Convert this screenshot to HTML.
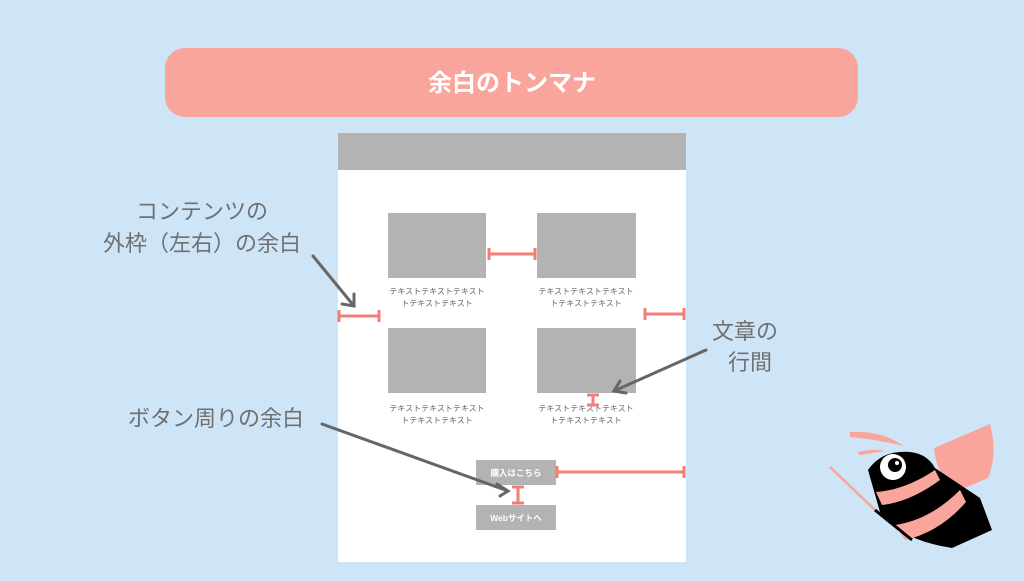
<!DOCTYPE html>
<html><head><meta charset="utf-8"><style>
body{margin:0;width:1024px;height:576px;overflow:hidden;background:#cee4f7}
text{font-family:"Liberation Sans","Noto Sans CJK JP",sans-serif}
</style></head><body>
<svg width="1024" height="576" viewBox="0 0 1024 576" xmlns="http://www.w3.org/2000/svg">
<rect width="1024" height="576" fill="#cee4f7"/>
<rect x="165" y="48" width="693" height="69" rx="20" fill="#f9a59c"/>
<text x="512" y="91" font-size="24" font-weight="bold" fill="#fff" text-anchor="middle">余白のトンマナ</text>
<rect x="338" y="133" width="348" height="429" fill="#fff"/>
<rect x="338" y="133" width="348" height="37" fill="#b3b3b3"/>
<g fill="#b3b3b3">
<rect x="388" y="213" width="98" height="65"/><rect x="537" y="213" width="99" height="65"/>
<rect x="388" y="328" width="98" height="65"/><rect x="537" y="328" width="99" height="65"/>
<rect x="476" y="460" width="80" height="25"/><rect x="476" y="505" width="80" height="25"/>
</g>
<g font-size="8" fill="#666" text-anchor="middle">
<text x="437" y="294">テキストテキストテキスト</text><text x="437" y="306">トテキストテキスト</text>
<text x="586" y="294">テキストテキストテキスト</text><text x="586" y="306">トテキストテキスト</text>
<text x="437" y="411">テキストテキストテキスト</text><text x="437" y="423">トテキストテキスト</text>
<text x="586" y="411">テキストテキストテキスト</text><text x="586" y="423">トテキストテキスト</text>
</g>
<g font-size="8.5" fill="#fff" text-anchor="middle" font-weight="bold">
<text x="516" y="476">購入はこちら</text><text x="516" y="521">Webサイトへ</text>
</g>
<g stroke="#f27f76" stroke-width="3" fill="none">
<path d="M489 254H535M489 248V260M535 248V260"/>
<path d="M339 316H379M339 310V322M379 310V322"/>
<path d="M645 314H684M645 308V320M684 308V320"/>
<path d="M593 395V405M587 395H599M587 405H599"/>
<path d="M557 472H684M557 466V478M684 466V478"/>
<path d="M518 487V503M512 487H524M512 503H524"/>
</g>
<g stroke="#666" stroke-width="3" fill="none" stroke-linecap="round">
<path d="M313 256L354 306M342 304L354 306L354 294"/>
<path d="M706 350L614 391M620 381L614 391L626 393"/>
<path d="M322 424L508 491M497 484L508 491L500 496"/>
</g>
<g font-size="22" fill="#707070" text-anchor="middle">
<text x="202" y="219">コンテンツの</text>
<text x="202" y="251">外枠（左右）の余白</text>
<text x="745" y="339">文章の</text>
<text x="750" y="370">行間</text>
<text x="216" y="426">ボタン周りの余白</text>
</g>
<path d="M934 448L990 424Q998 455 988 478L960 490Q936 478 934 448Z" fill="#f9a59c"/>
<path d="M850 432Q880 430 904 446Q880 440 850 437Z" fill="#f9a59c"/>
<path d="M858 452Q875 448 885 451L860 455Z" fill="#f9a59c"/>
<path d="M868 470Q880 453 900 452Q925 450 935 468L980 498L992 530L952 548Q900 540 880 512Z" fill="#000"/>
<path d="M876 492Q905 490 935 470L940 480Q910 502 882 505Z" fill="#f9a59c"/>
<path d="M895 525Q930 520 960 490L966 502Q940 532 905 540Z" fill="#f9a59c"/>
<circle cx="893" cy="467" r="13" fill="#fff"/>
<circle cx="895" cy="465" r="7" fill="#000"/>
<circle cx="897" cy="463" r="2" fill="#fff"/>
<path d="M830 467L875 510" stroke="#f9a59c" stroke-width="2.5"/>
<path d="M875 510L912 540" stroke="#000" stroke-width="3"/>
</svg>
</body></html>
